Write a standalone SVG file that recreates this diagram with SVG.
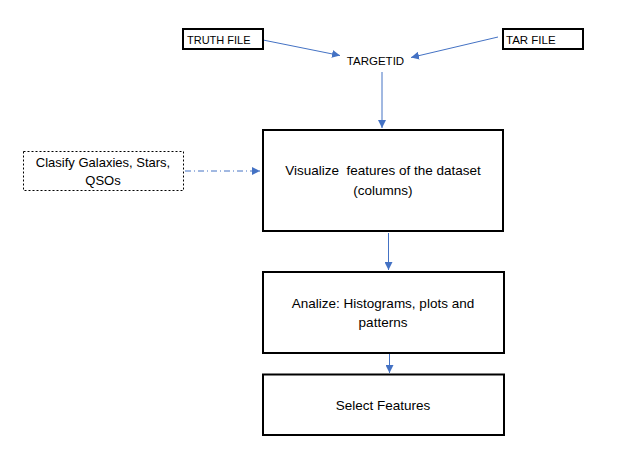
<svg xmlns="http://www.w3.org/2000/svg" width="634" height="460" viewBox="0 0 634 460">
<style>
text{font-family:"Liberation Sans",Arial,sans-serif;font-size:13.5px;fill:#000;text-anchor:middle}
text.cap{font-size:11.5px}
.box{fill:#fff;stroke:#000;stroke-width:2}
.dot{fill:#fff;stroke:#000;stroke-width:1;stroke-dasharray:2 2}
.c{fill:none;stroke:#4472C4;stroke-width:1}
</style>
<defs>
<marker id="ah" viewBox="0 0 10 10" refX="10" refY="5" markerWidth="8" markerHeight="8" markerUnits="userSpaceOnUse" orient="auto">
<path d="M0,0 L10,5 L0,10 z" fill="#4472C4"/>
</marker>
</defs>
<rect width="634" height="460" fill="#fff"/>
<g id="connectors">
<line class="c" x1="263" y1="40" x2="340" y2="55.5" marker-end="url(#ah)"/>
<line class="c" x1="498" y1="37" x2="411" y2="57.5" marker-end="url(#ah)"/>
<line class="c" x1="382" y1="72" x2="382" y2="128" marker-end="url(#ah)"/>
<line class="c" x1="185" y1="171" x2="260" y2="171" stroke-dasharray="6 3 1 3" marker-end="url(#ah)"/>
<line class="c" x1="388.5" y1="233" x2="388.5" y2="270" marker-end="url(#ah)"/>
<line class="c" x1="389.5" y1="354" x2="389.5" y2="373" marker-end="url(#ah)"/>
</g>
<g id="truth">
<rect class="box" x="183" y="29" width="80" height="20"/>
<text class="cap" x="187" y="44" style="text-anchor:start;font-size:11px">TRUTH FILE</text>
</g>
<g id="tar">
<rect class="box" x="503" y="29" width="80" height="20"/>
<text class="cap" x="506" y="44" style="text-anchor:start">TAR FILE</text>
</g>
<g id="targetid">
<text class="cap" x="375.5" y="65">TARGETID</text>
</g>
<g id="clasify">
<rect class="dot" x="23.5" y="151.5" width="160" height="39"/>
<text x="103" y="166.5" style="font-size:13px">Clasify Galaxies, Stars,</text>
<text x="103" y="185" style="font-size:13px">QSOs</text>
</g>
<g id="visualize">
<rect class="box" x="263" y="130" width="240" height="101"/>
<text x="383" y="175" xml:space="preserve">Visualize  features of the dataset</text>
<text x="383" y="195">(columns)</text>
</g>
<g id="analize">
<rect class="box" x="263" y="272" width="241" height="81"/>
<text x="383" y="308">Analize: Histograms, plots and</text>
<text x="383" y="327">patterns</text>
</g>
<g id="select">
<rect class="box" x="263" y="374.5" width="241" height="60.5"/>
<text x="383" y="410">Select Features</text>
</g>
</svg>
